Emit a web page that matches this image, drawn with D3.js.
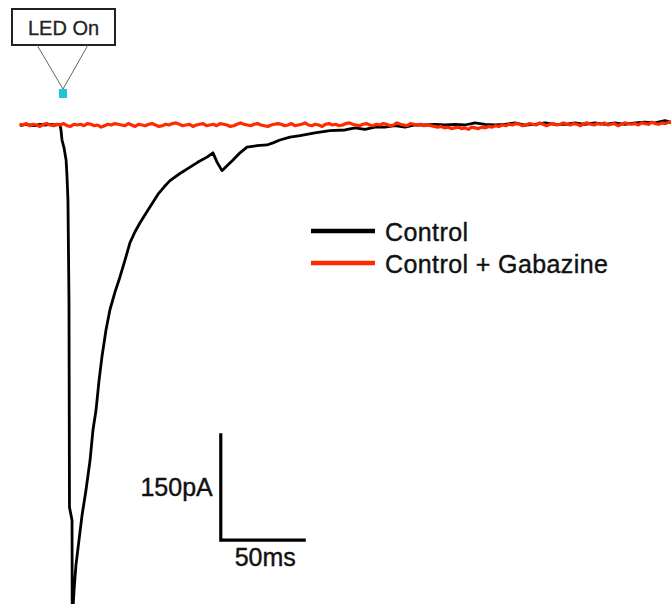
<!DOCTYPE html>
<html>
<head>
<meta charset="utf-8">
<script src="https://cdn.jsdelivr.net/npm/d3@7"></script>
<style>
  body { margin: 0; background: #fff; }
  text { font-family: "Liberation Sans", Arial, sans-serif; }
</style>
</head>
<body>
<div class="trace"></div>
<script>
// control trace, time in ms from LED onset, current in pA
const controlTime = [-24.7, -21.8, -18.8, -15.9, -12.9, -10.0, -7.1, -4.1, -1.2, -0.6, 0, 1.2, 2.4, 2.9, 3.5, 4.1, 4.4, 5.9, 6.0, 6.2,
    7.1, 8.2, 10.0, 11.8, 14.1, 16.5, 18.2, 20.0, 21.8, 23.5, 25.9, 28.2, 31.2, 34.1, 37.1, 40.0, 42.9, 45.9, 50.6, 56.5,
    60.0, 63.5, 69.4, 75.3, 80.0, 85.3, 88.8, 91.2, 94.1, 97.1, 100.6, 104.7, 108.8, 114.7, 120.6, 124.1, 128.2, 134.1, 140.0, 148.8,
    157.6, 166.5, 172.4, 178.2, 184.1, 190.0, 195.9, 201.8, 207.6, 213.5, 219.4, 225.3, 231.2, 237.1, 242.9, 248.8, 254.7, 260.6, 266.5, 272.4,
    278.2, 284.1, 290.0, 295.9, 301.8, 307.6, 313.5, 319.4, 325.3, 331.2, 337.1, 342.9, 348.8, 354.7, 358.2];
const controlCurrent = [-1, 1, 0, -1, 1, 0, 1, 0, 1, -7, -21, -32, -49, -70, -105, -245, -536, -554, -672, -687,
    -652, -617, -582, -547, -512, -470, -428, -400, -358, -325, -287, -259, -234, -213, -189, -165, -150, -137, -119, -97,
    -87, -78, -68, -59, -52, -45, -39, -52, -64, -57, -49, -39, -31, -29, -28, -25, -21, -17, -15, -11,
    -8, -7, -4, -6, -3, -3, -1, -3, 0, 0, 1, 0, 1, 0, 3, 1, 0, 1, 3, 0,
    1, 3, 1, 1, 3, 1, 3, 1, 3, 1, 3, 4, 3, 6, 4];

// gabazine trace, sampled every 2 ms from -25 ms
const gabazineStart = -25;
const gabazineStep = 2;
const gabazineCurrent = [1, 0, 2, -1, 1, 0, -2, 1, 2, 0, -1, 1, 0, 2, -1, -2, 1, 0, 1, -1,
    2, 1, -1, 0, -3, -1, 1, 0, 2, 1, 0, -1, 2, 0, -2, 1, 0, -1, 1, 2,
    0, -2, -1, 1, 0, 2, 3, 1, -1, 0, 1, -2, 0, 1, 2, -1, 0, 1, -1, 2,
    1, 0, -2, -1, 1, 3, 1, 0, -1, 1, 2, 0, -1, -2, 0, 1, 2, 1, -1, 0,
    2, -1, 0, 1, 3, 0, -1, 1, 0, -2, 1, 2, 0, 1, -1, 0, 2, 3, 1, 0,
    -1, 1, 2, 0, -1, 1, 0, 2, 1, -1, 0, 3, 1, 0, -1, 2, 1, 0, 1, -1,
    0, -1, -2, -3, -2, -4, -3, -5, -4, -3, -5, -4, -6, -3, -4, -5, -3, -4, -2, -3,
    -1, -2, 0, -1, 1, 0, 2, 1, -1, 0, 2, 1, 0, 3, 1, -1, 1, 2, 0, 1,
    3, 1, 0, 2, 1, -1, 2, 3, 1, 0, 2, 1, 3, 0, 1, 2, -1, 1, 3, 2,
    1, 2, 0, 3, 2, 1, 4, 2, 1, 3, 2, 4, 3];

const seriesNames = ["Control", "Control + Gabazine"];
const seriesColors = ["#000000", "#ff2a00"];
const scaleBarLabels = ["150pA", "50ms"];

const width = 671;
const height = 604;

const x = d3.scaleLinear().domain([0, 50]).range([62, 147]);
const y = d3.scaleLinear().domain([0, -150]).range([125, 232]);

const svg = d3.select(".trace")
    .append("svg")
    .attr("width", width)
    .attr("height", height);

const line = d3.line()
    .x(d => x(d[0]))
    .y(d => y(d[1]));

const controlData = controlTime.map((t, i) => [t, controlCurrent[i]]);
const gabazineData = gabazineCurrent.map((v, i) => [gabazineStart + i * gabazineStep, v]);

svg.append("path")
    .datum(controlData)
    .attr("d", line)
    .attr("fill", "none")
    .attr("stroke", seriesColors[0])
    .attr("stroke-width", 2.8)
    .attr("stroke-linejoin", "round");

svg.append("path")
    .datum(gabazineData)
    .attr("d", line)
    .attr("fill", "none")
    .attr("stroke", seriesColors[1])
    .attr("stroke-width", 3.2)
    .attr("stroke-linejoin", "round");

// LED on marker
const led = svg.append("g");
led.append("rect")
    .attr("x", 12).attr("y", 9)
    .attr("width", 103).attr("height", 36)
    .attr("fill", "#fff")
    .attr("stroke", "#222")
    .attr("stroke-width", 2);
led.append("text")
    .attr("x", 63.5).attr("y", 35)
    .attr("text-anchor", "middle")
    .attr("font-size", 20)
    .attr("fill", "#222")
    .attr("stroke", "#222")
    .attr("stroke-width", 0.3)
    .text("LED On");
led.append("path")
    .attr("d", `M37,45 L${x(0) + 1},89 L88,45`)
    .attr("fill", "none")
    .attr("stroke", "#666")
    .attr("stroke-width", 1);
led.append("rect")
    .attr("x", x(0) - 3).attr("y", 89)
    .attr("width", 8).attr("height", 9)
    .attr("fill", "#1cc6d6");

// legend
const legend = svg.append("g")
    .attr("transform", "translate(311,231)");
legend.selectAll("line")
    .data(seriesNames)
    .enter()
    .append("line")
    .attr("x1", 0).attr("x2", 64)
    .attr("y1", (d, i) => i * 32)
    .attr("y2", (d, i) => i * 32)
    .attr("stroke", (d, i) => seriesColors[i])
    .attr("stroke-width", 4.5);
legend.selectAll("text")
    .data(seriesNames)
    .enter()
    .append("text")
    .attr("x", 74)
    .attr("y", (d, i) => i * 32 + 10)
    .attr("font-size", 25)
    .attr("letter-spacing", 0.4)
    .attr("fill", "#111")
    .attr("stroke", "#111")
    .attr("stroke-width", 0.4)
    .text(d => d);

// scale bar: 150 pA by 50 ms
const barT = 93.4;
const barI = -582;
svg.append("path")
    .attr("d", `M${x(barT)},${y(barI + 150)} L${x(barT)},${y(barI)} L${x(barT + 50)},${y(barI)}`)
    .attr("fill", "none")
    .attr("stroke", "#000")
    .attr("stroke-width", 3.2);

const barLabels = svg.append("g")
    .attr("font-size", 25)
    .attr("fill", "#111")
    .attr("stroke", "#111")
    .attr("stroke-width", 0.4);
barLabels.append("text")
    .attr("x", x(barT) - 8)
    .attr("y", y(barI + 75) + 9)
    .attr("text-anchor", "end")
    .text(scaleBarLabels[0]);
barLabels.append("text")
    .attr("x", x(barT + 25) + 2)
    .attr("y", y(barI) + 26)
    .attr("text-anchor", "middle")
    .text(scaleBarLabels[1]);
</script>
</body>
</html>
